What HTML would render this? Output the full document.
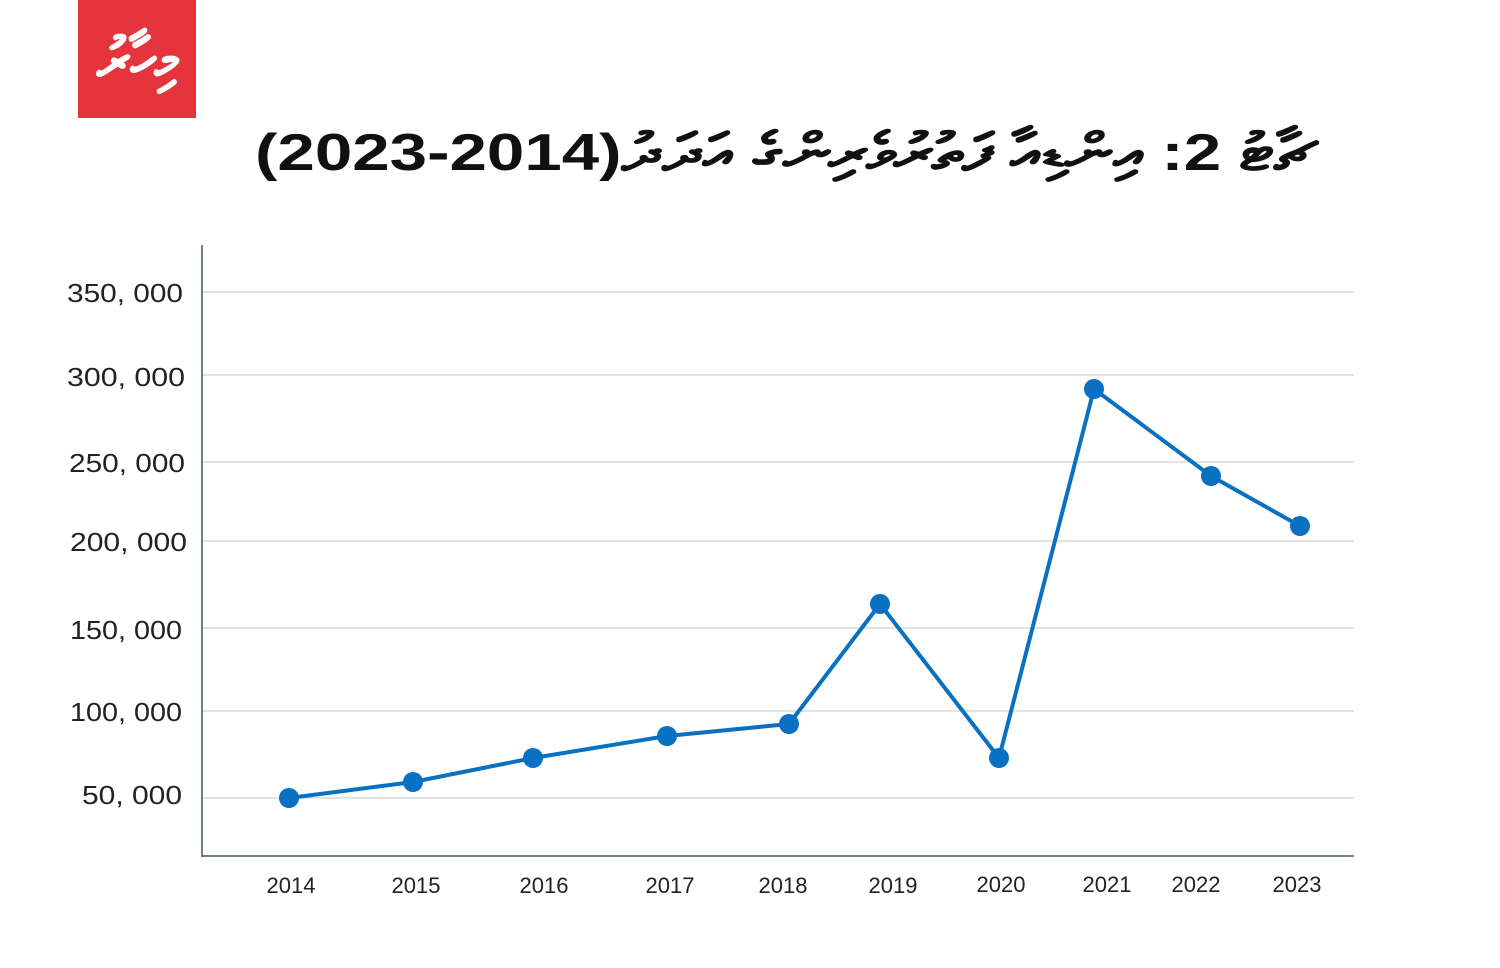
<!DOCTYPE html>
<html><head><meta charset="utf-8"><style>
html,body{margin:0;padding:0;background:#fff;width:1500px;height:968px;overflow:hidden}
</style></head><body>
<svg width="1500" height="968" xmlns="http://www.w3.org/2000/svg" font-family="Liberation Sans, DejaVu Sans, sans-serif">
<rect x="78" y="0" width="118" height="118" fill="#e5343b"/>
<text x="137" y="80" fill="#fff" font-size="60" font-weight="bold" text-anchor="middle" textLength="80" lengthAdjust="spacingAndGlyphs">މިހާރު</text>
<text x="785" y="170" font-size="52" font-weight="bold" text-anchor="middle" direction="rtl" fill="#111" textLength="1060" lengthAdjust="spacingAndGlyphs">ޗާޓު 2: އިންޑިއާ ފަތުރުވެރިންގެ އަދަދު(2014-2023)</text>
<g stroke="#cfd3d8" stroke-width="1.2">
<line x1="202" x2="1354" y1="292" y2="292"/>
<line x1="202" x2="1354" y1="375" y2="375"/>
<line x1="202" x2="1354" y1="462" y2="462"/>
<line x1="202" x2="1354" y1="541" y2="541"/>
<line x1="202" x2="1354" y1="628" y2="628"/>
<line x1="202" x2="1354" y1="711" y2="711"/>
<line x1="202" x2="1354" y1="798" y2="798"/>
</g>
<line x1="202" y1="245" x2="202" y2="857" stroke="#44556b" stroke-width="1.5"/>
<line x1="202" y1="856" x2="1354" y2="856" stroke="#44556b" stroke-width="1.5"/>
<g font-size="26" fill="#222">
<text x="67" y="302" textLength="116" lengthAdjust="spacingAndGlyphs">350, 000</text>
<text x="67" y="386" textLength="118" lengthAdjust="spacingAndGlyphs">300, 000</text>
<text x="69" y="472" textLength="116" lengthAdjust="spacingAndGlyphs">250, 000</text>
<text x="70" y="551" textLength="117" lengthAdjust="spacingAndGlyphs">200, 000</text>
<text x="70" y="639" textLength="112" lengthAdjust="spacingAndGlyphs">150, 000</text>
<text x="70" y="721" textLength="112" lengthAdjust="spacingAndGlyphs">100, 000</text>
<text x="82" y="804" textLength="100" lengthAdjust="spacingAndGlyphs">50, 000</text>
</g>
<g font-size="22" fill="#222" text-anchor="middle">
<text x="291" y="893">2014</text>
<text x="416" y="893">2015</text>
<text x="544" y="893">2016</text>
<text x="670" y="893">2017</text>
<text x="783" y="893">2018</text>
<text x="893" y="893">2019</text>
<text x="1001" y="892">2020</text>
<text x="1107" y="892">2021</text>
<text x="1196" y="892">2022</text>
<text x="1297" y="892">2023</text>
</g>
<polyline fill="none" stroke="#0a70c2" stroke-width="4" stroke-linejoin="round" points="289,798 413,782 533,758 667,736 789,724 880,604 999,758 1094,389 1211,476 1300,526"/>
<g fill="#0a70c2">
<circle cx="289" cy="798" r="10"/><circle cx="413" cy="782" r="10"/><circle cx="533" cy="758" r="10"/>
<circle cx="667" cy="736" r="10"/><circle cx="789" cy="724" r="10"/><circle cx="880" cy="604" r="10"/>
<circle cx="999" cy="758" r="10"/><circle cx="1094" cy="389" r="10"/><circle cx="1211" cy="476" r="10"/>
<circle cx="1300" cy="526" r="10"/>
</g>
</svg>
</body></html>
